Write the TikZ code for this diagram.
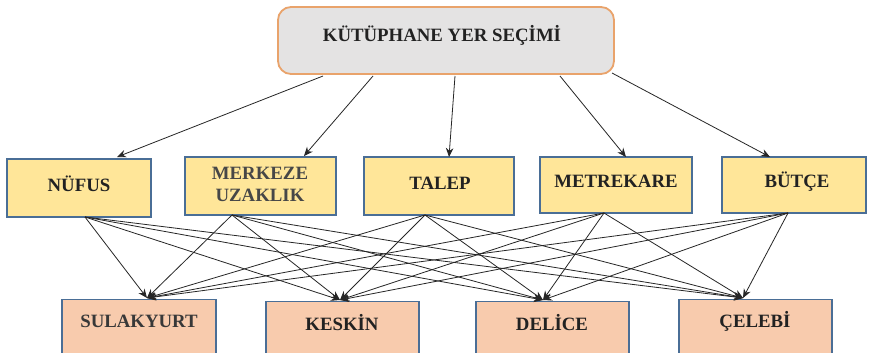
\documentclass[tikz,border=0pt]{standalone}
\usepackage{fontspec}
\setmainfont{Liberation Serif}[BoldFont={Liberation Serif Bold}]
\usetikzlibrary{arrows.meta}
\definecolor{critfill}{HTML}{FFE699}
\definecolor{altfill}{HTML}{F8CBAD}
\definecolor{boxline}{HTML}{4A6E96}
\definecolor{topfill}{HTML}{E4E3E3}
\definecolor{topline}{HTML}{E9A36B}
\definecolor{txt}{HTML}{222222}
\tikzset{
  critbox/.style={draw=boxline, line width=1.3pt, fill=critfill, inner sep=0pt},
  altbox/.style={draw=boxline, line width=1.3pt, fill=altfill, inner sep=0pt},
  topbox/.style={draw=topline, line width=1.8pt, fill=topfill, rounded corners=13pt, inner sep=0pt},
  lbl/.style={font=\fontsize{18.8}{22}\selectfont\bfseries, text=txt, inner sep=0pt, align=center},
  conn/.style={draw=black!85, line width=0.8pt, -{Stealth[length=9pt,width=7.5pt]}},
}
\begin{document}
\begin{tikzpicture}[x=1pt,y=-1pt]
\useasboundingbox (0,0) rectangle (871,353);
\clip (0,0) rectangle (871,353);
\fill[white] (0,0) rectangle (871,353);
% top
\node[topbox, minimum width=336pt, minimum height=67pt] (top) at (446,40.5) {};
\node[lbl] (toplbl) at (442,35) {KÜTÜPHANE YER SEÇİMİ};
% criteria
\node[critbox, minimum width=144pt, minimum height=58pt] (nufus) at (79,188) {};
\node[critbox, minimum width=151pt, minimum height=58pt] (merkeze) at (260.5,186) {};
\node[critbox, minimum width=150pt, minimum height=58pt] (talep) at (439,186) {};
\node[critbox, minimum width=152pt, minimum height=56pt] (metrekare) at (616,185) {};
\node[critbox, minimum width=144pt, minimum height=56pt] (butce) at (794,185) {};
\node[lbl] (nufuslbl) at (79,184) {NÜFUS};
\node[lbl, text=black!72] (merkezelbl1) at (260,173) {MERKEZE};
\node[lbl, text=black!72] (merkezelbl2) at (260,195) {UZAKLIK};
\node[lbl] (taleplbl) at (440,183) {TALEP};
\node[lbl] (metrekarelbl) at (616,181) {METREKARE};
\node[lbl] (butcelbl) at (797,182) {BÜTÇE};
% alternatives
\node[altbox, minimum width=154pt, minimum height=100pt, anchor=north] (sul) at (139,299) {};
\node[altbox, minimum width=153pt, minimum height=100pt, anchor=north] (kes) at (342.5,301) {};
\node[altbox, minimum width=153pt, minimum height=100pt, anchor=north] (del) at (552.5,301) {};
\node[altbox, minimum width=153pt, minimum height=100pt, anchor=north] (cel) at (755.5,299) {};
\node[lbl, text=black!78] (sullbl) at (139,321) {SULAKYURT};
\node[lbl] (keslbl) at (342,323) {KESKİN};
\node[lbl] (dellbl) at (552,323) {DELİCE};
\node[lbl] (cellbl) at (755,321) {ÇELEBİ};
% top connector points
\coordinate (t1) at (323,76);
\coordinate (t2) at (373,76);
\coordinate (t3) at (455,76);
\coordinate (t4) at (560,76);
\coordinate (t5) at (612,73);
\coordinate (c1) at (117,157);
\coordinate (c2) at (304,156);
\coordinate (c3) at (449,157);
\coordinate (c4) at (626,157);
\coordinate (c5) at (770,157);
\foreach \i in {1,...,5} { \draw[conn] (t\i) -- (c\i); }
% criteria bottom points
\coordinate (b1) at (85,217);
\coordinate (b2) at (232,215);
\coordinate (b3) at (425,215);
\coordinate (b4) at (604,213);
\coordinate (b5) at (788,213);
% alternative top points
\coordinate (a1) at (147,298);
\coordinate (a2) at (340,300);
\coordinate (a3) at (543,300);
\coordinate (a4) at (743,298);
\foreach \i in {1,...,5} {
  \foreach \j in {1,...,4} {
    \draw[conn] (b\i) -- (a\j);
  }
}
\end{tikzpicture}
\end{document}
